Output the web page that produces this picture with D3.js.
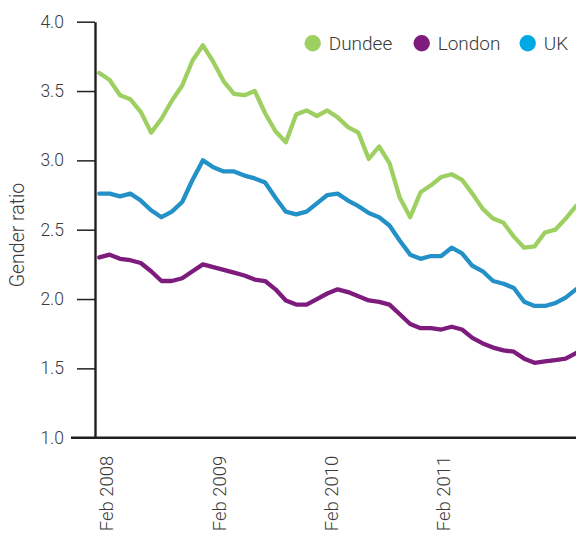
<!DOCTYPE html>
<html>
<head>
<meta charset="utf-8">
<script src="https://cdn.jsdelivr.net/npm/d3@7"></script>
<style>
  html, body { margin: 0; padding: 0; background: #fff; }
  svg { display: block; font-family: Roboto, "Liberation Sans", sans-serif; font-weight: 300; }
</style>
</head>
<body>
<svg id="chart" width="576" height="536"></svg>
<script>
// ---- data ----
const seriesNames = ["Dundee", "London", "UK"];
const dundee = [3.63, 3.58, 3.47, 3.44, 3.35, 3.20, 3.30, 3.43, 3.54, 3.72, 3.83, 3.71,
  3.57, 3.48, 3.47, 3.50, 3.34, 3.21, 3.13, 3.33, 3.36, 3.32, 3.36, 3.31, 3.24, 3.20,
  3.01, 3.10, 2.98, 2.73, 2.59, 2.77, 2.82, 2.88, 2.90, 2.86, 2.76, 2.65, 2.58, 2.55,
  2.45, 2.37, 2.38, 2.48, 2.50, 2.58, 2.67];
const london = [2.30, 2.32, 2.29, 2.28, 2.26, 2.20, 2.13, 2.13, 2.15, 2.20, 2.25, 2.23,
  2.21, 2.19, 2.17, 2.14, 2.13, 2.07, 1.99, 1.96, 1.96, 2.00, 2.04, 2.07, 2.05, 2.02,
  1.99, 1.98, 1.96, 1.89, 1.82, 1.79, 1.79, 1.78, 1.80, 1.78, 1.72, 1.68, 1.65, 1.63,
  1.62, 1.57, 1.54, 1.55, 1.56, 1.57, 1.61];
const uk = [2.76, 2.76, 2.74, 2.76, 2.71, 2.64, 2.59, 2.63, 2.70, 2.86, 3.00, 2.95,
  2.92, 2.92, 2.89, 2.87, 2.84, 2.73, 2.63, 2.61, 2.63, 2.69, 2.75, 2.76, 2.71, 2.67,
  2.62, 2.59, 2.53, 2.42, 2.32, 2.29, 2.31, 2.31, 2.37, 2.33, 2.24, 2.20, 2.13, 2.11,
  2.08, 1.98, 1.95, 1.95, 1.97, 2.01, 2.07];
const yTicks = [1.0, 1.5, 2.0, 2.5, 3.0, 3.5, 4.0];
const xLabels = ["Feb 2008", "Feb 2009", "Feb 2010", "Feb 2011"];
const xLabelPos = [0.68, 11.56, 22.4, 33.26]; // position in data-point units
const lineColors = ["#9dcf61", "#7d1c7c", "#2391c7"];
const legendColors = ["#9dcf61", "#7d1c7c", "#00a8e4"];

// ---- layout ----
const svg = d3.select("#chart");
const W = 576;
const x = d3.scaleLinear().domain([0, dundee.length - 1]).range([99.3, 576]);
const y = d3.scaleLinear().domain([1.0, 4.0]).range([437.7, 21.7]);
const axisX = 95;

const textColor = "#3a3a3a";

// y axis
const yAxis = d3.axisLeft(y).tickValues(yTicks).tickFormat(d3.format(".1f"))
  .tickSize(18).tickSizeOuter(0).tickPadding(13);
const gy = svg.append("g").attr("transform", `translate(${axisX},0)`).call(yAxis);
gy.select(".domain").attr("stroke", "#231f20").attr("stroke-width", 2.4);
gy.selectAll(".tick line").attr("stroke", "#231f20").attr("stroke-width", 1.5);
gy.selectAll(".tick text").attr("fill", textColor).style("font-size", "17.5px")
  .style("font-family", "Roboto, sans-serif").style("font-weight", 300);

// x axis baseline
svg.append("line").attr("x1", 71).attr("x2", W)
  .attr("y1", y(1.0)).attr("y2", y(1.0))
  .attr("stroke", "#231f20").attr("stroke-width", 2.4);

// x labels (rotated)
svg.append("g").selectAll("text").data(xLabels).join("text")
  .attr("transform", (d, i) => `translate(${x(xLabelPos[i])},${y(1.0) + 18}) rotate(-90)`)
  .attr("text-anchor", "end").attr("dy", "0.35em")
  .attr("fill", textColor).style("font-size", "18.5px")
  .text(d => d);

// y title
svg.append("text")
  .attr("transform", `translate(17,235) rotate(-90)`)
  .attr("text-anchor", "middle").attr("dy", "0.35em")
  .attr("fill", textColor).style("font-size", "19.5px")
  .text("Gender ratio");

// lines
const line = d3.line().x((d, i) => x(i)).y(d => y(d)).curve(d3.curveLinear);
[dundee, london, uk].forEach((s, k) => {
  svg.append("path").datum(s).attr("d", line)
    .attr("fill", "none").attr("stroke", lineColors[k])
    .attr("stroke-width", 4.3).attr("stroke-linejoin", "round").attr("stroke-linecap", "round");
});

// legend
const legendX = [312.7, 421.7, 527.7];
const lg = svg.append("g").selectAll("g").data(seriesNames).join("g")
  .attr("transform", (d, i) => `translate(${legendX[i]},43.3)`);
lg.append("circle").attr("r", 8.2).attr("fill", (d, i) => legendColors[i]);
lg.append("text").attr("x", 16).attr("dy", "0.36em")
  .attr("fill", textColor).style("font-size", "19px").text(d => d);
</script>
</body>
</html>
